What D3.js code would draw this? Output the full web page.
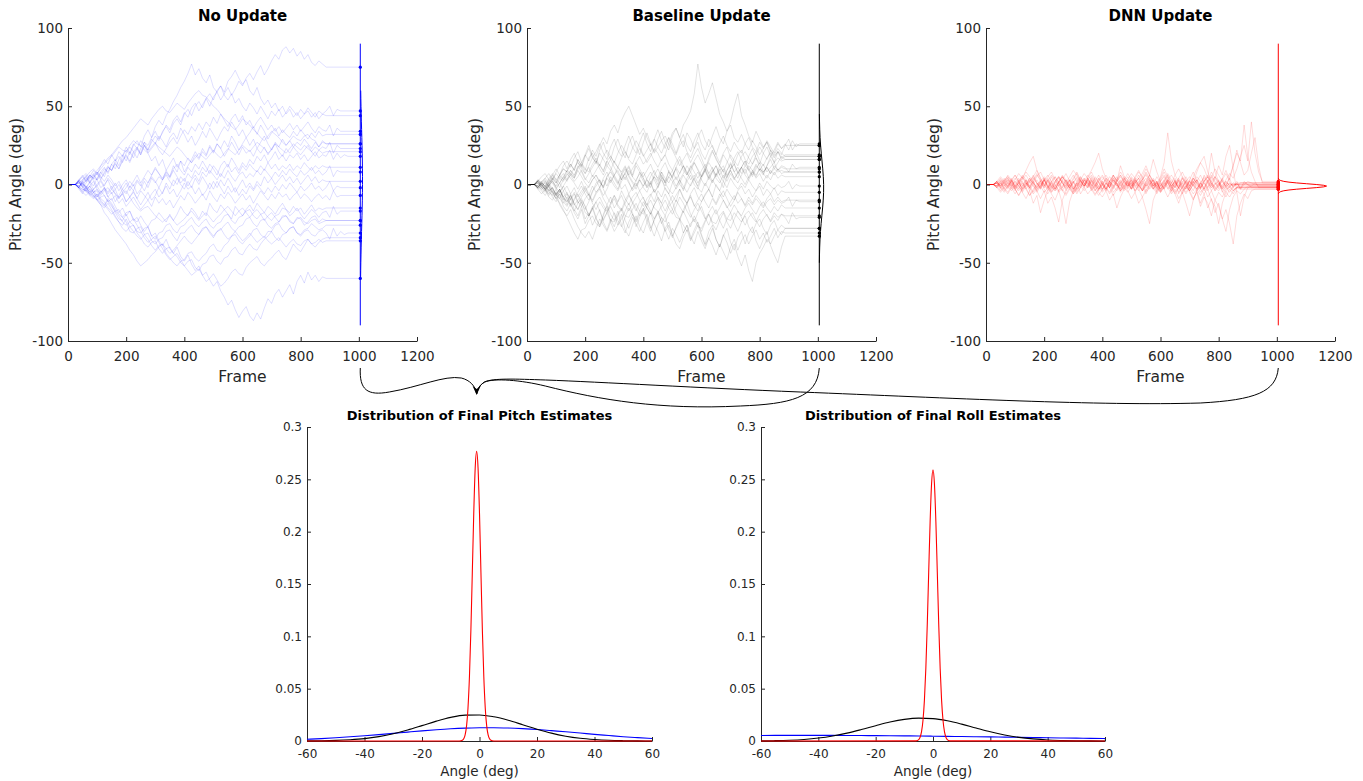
<!DOCTYPE html>
<html><head><meta charset="utf-8">
<script src="https://cdn.jsdelivr.net/npm/d3@7"></script>
<style>body{margin:0;background:#fff;} text{font-family:"DejaVu Sans",sans-serif;}</style>
</head><body><svg id="c" width="1363" height="781"></svg>
<script>
// ---------------- DATA ----------------
const frameTicks = [0, 200, 400, 600, 800, 1000, 1200];
const pitchTicks = [-100, -50, 0, 50, 100];
const angleTicks = [-60, -40, -20, 0, 20, 40, 60];
const densityTicks = [0, 0.05, 0.1, 0.15, 0.2, 0.25, 0.3];
const NO_UPDATE_STEP = 12.5;  // frames between stored samples
const BASELINE_STEP = 12.5;
const DNN_STEP = 12.5;
const END_FRAME = 1005;       // frame where final estimates are collected
const SIDE_SCALE = 600;       // frames per unit density for side distributions

const noUpdateTraces = [
 [0,0,0,-2,3,6,2,-1,4,8,5,11, 9,14,10,16,19,15,21,24,20,27,25,30, 34,29,33,38,35,41,44,40,46,43,49,52, 47,51,55,50,56,59,54,58,62,57,61,66, 63,68,71,67,72,76,70,74,79,83,80,86, 88,84,87,82,85,80,83,78,76,79,77,75],
 [0,0,0,2,-2,1,4,7,3,6,10,8, 13,16,12,18,22,19,25,28,24,31,35,30, 37,41,38,44,48,53,57,62,66,71,77,70, 74,68,65,70,62,59,63,57,54,58,52,55, 50,47,52,49,45,50,46,42,47,44,48,43, 46,50,47,44,48,45,49,46,43,47,45,47,50,44,48,47],
 [0,0,0,3,1,-2,2,5,8,4,7,11, 9,13,10,15,18,14,20,23,19,25,22,27, 31,28,34,37,33,39,42,38,45,48,44,50, 53,49,55,58,54,60,63,59,66,69,73,68, 64,67,60,57,62,55,51,54,49,52,47,50, 45,48,43,46,42,45,47,43,46,42,45,44],
 [0,0,0,-2,1,-3,-1,-5,-8,-4,-7,-11, -9,-14,-18,-15,-20,-17,-23,-21,-26,-30,-27,-33, -31,-36,-39,-35,-41,-44,-40,-46,-49,-45,-51,-55, -52,-58,-56,-61,-65,-62,-68,-72,-77,-74,-80,-85, -81,-78,-84,-87,-82,-86,-79,-73,-76,-70,-67,-72, -68,-64,-70,-62,-58,-63,-56,-61,-58,-62,-59,-60],
 [0,0,0,3,6,2,5,9,6,12,16,13, 19,15,21,18,24,20,26,23,28,25,21,24, 27,22,19,23,27,30,26,31,35,32,37,34, 39,35,40,37,43,39,45,41,37,42,45,40, 44,38,41,36,40,43,39,35,38,34,37,33, 36,39,35,38,34,37,40,36,33,37,35,34,38,31,36,34],
 [0,0,0,-2,2,5,1,4,7,3,8,12, 9,15,18,14,20,24,21,17,23,27,22,29, 26,31,28,24,30,33,29,36,32,27,31,25, 29,34,30,36,32,28,33,37,34,40,36,31, 35,30,33,37,32,38,34,29,33,36,31,35, 32,30,34,31,35,32,29,33,30,34,31,32],
 [0,0,0,2,-1,-4,-1,2,-3,-6,-2,-8, -5,-11,-7,-3,-6,-1,-4,2,-1,4,1,6, 10,7,3,9,5,12,8,15,12,17,14,19, 16,21,18,24,20,26,23,28,24,31,27,22, 26,30,25,29,23,27,31,26,22,27,24,29, 25,28,24,27,25,29,26,23,27,24,28,26],
 [0,0,0,-2,1,4,1,6,3,8,11,7, 13,10,16,19,15,21,17,23,19,25,20,15, 18,12,16,9,13,17,11,15,8,12,16,21, 17,23,19,25,21,26,23,18,22,27,23,19, 24,20,22,18,23,20,24,19,23,26,21,18, 23,20,24,21,19,22,25,21,18,22,20,21],
 [0,0,0,2,5,2,6,3,-1,2,-2,-5, -1,-6,-9,-5,-11,-8,-4,-9,-13,-9,-5,-10, -7,-2,-6,1,-3,3,0,5,2,7,4,9, 6,11,8,13,10,6,12,15,11,17,13,9, 14,11,16,13,18,15,19,14,17,21,16,19, 15,19,17,20,16,19,15,18,21,17,19,18,22,16,20,17,19,18],
 [0,0,0,-2,-4,-1,-5,-3,-8,-5,-2,-6, -3,1,-4,0,3,-2,2,6,1,5,9,6, 11,7,4,8,5,10,13,9,6,11,8,13, 10,15,11,7,12,9,5,10,13,8,11,7, 12,9,13,10,8,12,9,14,10,13,9,12, 10,13,9,12,10,14,11,9,12,10,12,11],
 [0,0,0,1,-1,3,6,4,8,5,2,6, 3,-1,2,-3,1,-4,0,-6,-3,2,-2,4, 1,5,3,7,4,9,5,1,4,-1,3,6, 2,8,5,9,6,3,7,4,9,5,2,6, 8,4,7,5,9,6,10,7,4,8,5,9, 6,10,7,5,9,6,8,11,7,9,6,8,12,5,9,8],
 [0,0,0,-1,2,-2,1,-3,0,3,-1,4, 1,-3,0,-5,-2,2,-1,3,0,-4,1,5, 2,-2,3,6,2,-1,4,0,-3,2,-2,4, 0,5,1,-3,2,-2,3,-1,4,0,-5,-1, 3,-2,1,-3,2,-1,5,1,4,0,3,6, 2,5,1,4,0,3,6,2,5,1,3,2],
 [0,0,0,1,-1,-4,-1,-5,-3,-7,-4,-2, -6,-3,-9,-6,-11,-8,-5,-9,-4,-7,-10,-6, -3,-8,-5,-1,-6,-3,-8,-4,1,-3,-1,-6, -2,-7,-4,1,-3,2,-2,-6,-1,-5,-2,-7, -3,-6,-1,-4,0,-3,-6,-2,-5,-1,-4,0, -3,1,-2,-5,-1,-4,-2,1,-3,-1,-4,-2,2,-4,-1,-2],
 [0,0,0,-2,-5,-2,-6,-3,-1,-5,-3,-8, -10,-7,-12,-9,-14,-11,-8,-12,-16,-13,-10,-14, -8,-12,-9,-13,-10,-15,-11,-7,-10,-5,-8,-12, -9,-6,-10,-4,-8,-11,-6,-9,-5,-8,-12,-9, -6,-10,-7,-12,-8,-4,-7,-10,-6,-9,-5,-8, -6,-10,-7,-5,-9,-6,-8,-11,-8,-6,-9,-7,-10,-4,-8,-7],
 [0,0,0,-3,-6,-2,-5,-8,-6,-11,-13,-9, -12,-16,-19,-21,-18,-17,-22,-24,-20,-24,-27,-23, -22,-18,-21,-24,-19,-23,-19,-14,-18,-20,-15,-18, -22,-17,-20,-12,-16,-18,-13,-16,-19,-22,-14,-17, -20,-16,-13,-17,-12,-15,-18,-14,-16,-19,-15,-12, -16,-18,-14,-17,-15,-19,-16,-13,-17,-15,-16,-15],
 [0,0,0,2,-2,-5,-3,-7,-9,-12,-14,-10, -13,-18,-22,-23,-19,-24,-26,-30,-31,-28,-27,-33, -35,-31,-30,-26,-25,-29,-31,-27,-26,-23,-21,-25, -27,-24,-22,-26,-28,-25,-24,-20,-19,-23,-25,-21, -20,-17,-16,-20,-22,-19,-18,-21,-23,-20,-19,-15, -16,-20,-18,-15,-19,-22,-19,-16,-18,-21,-18,-17,-21,-14,-19,-17],
 [0,0,0,-2,-5,-7,-4,-7,-10,-13,-15,-12, -16,-20,-24,-26,-22,-27,-30,-33,-35,-32,-31,-36, -38,-35,-34,-30,-29,-33,-36,-31,-31,-28,-26,-30, -32,-28,-27,-31,-34,-30,-29,-26,-24,-28,-30,-27, -26,-22,-21,-25,-27,-23,-22,-26,-28,-25,-24,-20, -20,-24,-25,-21,-22,-26,-24,-21,-20,-24,-22,-23],
 [0,0,0,3,0,-2,-7,-5,-4,-9,-11,-15, -17,-21,-24,-28,-30,-27,-26,-31,-34,-38,-40,-37, -36,-41,-44,-41,-40,-44,-46,-50,-52,-49,-48,-53, -55,-51,-50,-46,-45,-49,-51,-47,-46,-42,-40,-44, -45,-41,-38,-41,-42,-38,-35,-33,-30,-34,-36,-32, -31,-28,-27,-31,-32,-29,-28,-25,-27,-29,-28,-26],
 [0,0,0,-1,-3,-4,-7,-9,-6,-10,-13,-16, -19,-17,-16,-21,-24,-30,-31,-28,-27,-32,-35,-39, -42,-39,-38,-44,-47,-50,-52,-49,-48,-44,-43,-47, -49,-46,-44,-40,-38,-42,-43,-39,-37,-33,-32,-36, -38,-35,-33,-29,-28,-32,-34,-30,-30,-26,-25,-29, -31,-28,-27,-31,-33,-30,-29,-32,-33,-30,-29,-31,-35,-28,-33,-30,-32,-31],
 [0,0,0,2,0,-1,-3,-5,-10,-8,-7,-11, -14,-17,-20,-24,-26,-24,-22,-26,-30,-34,-37,-35, -33,-37,-41,-45,-48,-46,-44,-48,-52,-55,-58,-56, -54,-58,-62,-60,-57,-61,-65,-63,-60,-56,-54,-57, -58,-53,-50,-48,-46,-50,-52,-49,-47,-44,-42,-46, -48,-43,-38,-41,-43,-39,-35,-38,-40,-37,-35,-34],
 [0,0,0,-2,-3,-4,-6,-8,-10,-13,-18,-21, -25,-29,-32,-35,-38,-42,-45,-49,-52,-50,-48,-45, -43,-40,-38,-41,-44,-42,-39,-36,-33,-36,-38,-35, -32,-29,-27,-30,-33,-30,-28,-32,-35,-33,-30,-33, -36,-34,-31,-34,-37,-35,-33,-36,-38,-36,-34,-37, -40,-37,-35,-38,-39,-36,-35,-38,-37,-35,-37,-36],
 [0,0,0,1,3,5,8,10,7,10,13,16, 18,21,24,22,21,25,28,26,25,22,20,23, 26,24,22,20,18,21,24,22,19,16,14,17, 20,18,16,19,22,19,17,20,23,21,19,22, 25,23,21,24,27,25,23,20,22,26,24,22, 20,23,26,24,22,25,23,21,24,22,24,23,27,20,25,23],
 [0,0,0,3,5,7,4,6,9,12,14,17, 19,22,25,28,30,33,36,39,42,40,38,42, 45,48,50,47,46,49,52,50,48,52,55,58, 60,57,56,53,50,48,45,42,40,37,35,38, 42,40,38,35,33,30,28,31,34,32,30,27, 25,28,31,29,28,31,32,29,28,24,27,26],
 [0,0,0,-1,1,2,6,4,3,-2,0,3, -3,-6,-8,-6,-4,-8,-12,-15,-17,-15,-14,-17, -20,-22,-24,-22,-20,-23,-26,-24,-22,-19,-17,-20, -23,-20,-18,-21,-24,-21,-19,-16,-14,-17,-20,-17, -15,-18,-21,-18,-16,-19,-23,-20,-18,-21,-24,-21, -20,-23,-25,-22,-21,-24,-25,-23,-22,-25,-24,-23]
];

const baselineTraces = [
 [0,0,0,2,-1,-3,1,4,1,6,10,8, 6,11,14,10,7,12,17,14,20,16,12,9, 15,11,8,12,6,10,14,18,13,16,20,15, 11,16,19,13,9,14,18,12,7,11,15,19, 14,9,17,22,16,12,19,15,10,17,21,16, 12,18,23,17,13,20,24,18,22,27,23,26,22,28,24,26],
 [0,0,0,-2,1,-3,-1,3,-2,-5,-1,3, 6,2,5,9,4,1,6,3,-2,4,8,2, 6,11,7,3,9,5,12,8,4,-2,2,-5, -1,4,-3,-6,1,5,0,-3,4,8,3,-1, 6,10,5,1,7,3,-2,5,9,4,1,6, 10,4,8,13,9,6,12,18,14,21,19,25],
 [0,0,0,3,1,-1,2,6,3,1,5,9, 7,4,10,13,9,17,20,15,12,18,22,18, 14,20,25,21,17,23,28,24,19,14,18,23, 20,15,19,26,22,17,12,16,20,14,19,23, 17,11,15,21,17,12,8,14,19,15,12,18, 21,17,13,19,24,20,16,22,18,21,17,19],
 [0,0,0,-1,2,4,1,3,7,4,2,6, 9,6,11,14,10,8,13,17,12,9,15,18, 14,11,17,21,16,13,19,23,18,22,26,20, 24,28,31,26,33,36,30,38,42,47,58,77, 62,52,58,65,55,45,40,34,38,30,27,32, 26,22,28,24,19,23,27,21,17,21,16,18],
 [0,0,0,2,-1,-3,1,5,2,-2,3,7, 4,1,-3,2,-4,-1,3,6,2,-2,5,8, 4,0,6,10,5,1,-3,3,-1,4,8,3, -2,5,1,9,4,-1,3,-4,2,6,0,-3, 4,9,3,8,12,6,2,9,14,8,4,11, 15,9,13,17,11,7,12,16,10,14,18,16],
 [0,0,0,-3,-1,1,-4,-2,-6,-3,-8,-5, -10,-6,-12,-8,-4,-7,-1,-5,-2,3,-1,5, 1,-3,4,7,2,-4,-1,3,-2,-5,1,5, 0,8,4,1,6,10,3,7,12,8,14,10, 5,9,14,10,6,12,8,4,10,13,7,11, 15,10,6,12,9,13,8,11,14,9,12,11,8,13,10,11],
 [0,0,0,1,-2,2,-1,4,1,6,3,9, 13,9,16,12,7,11,5,9,13,8,15,11, 6,9,3,7,11,5,2,8,4,-1,5,9, 3,8,1,5,9,3,7,12,6,10,14,9, 5,11,7,2,6,10,4,9,13,8,11,7, 12,9,5,10,14,8,11,7,12,9,11,10],
 [0,0,0,-2,1,3,-1,2,-2,1,5,2, 7,4,9,5,1,-2,3,6,1,-1,5,9, 5,1,7,11,6,2,-1,4,8,3,0,6, 10,5,2,8,4,11,7,12,8,3,6,1, 5,9,4,8,12,6,10,5,9,4,7,11, 6,3,8,5,10,7,4,9,6,10,7,8],
 [0,0,0,2,0,-2,3,1,-3,1,-4,-1, -6,-2,-8,-4,-1,-6,-10,-5,-2,-7,-3,3, -1,-4,2,5,1,-3,3,7,2,-2,1,-5, -2,3,-1,5,2,-3,1,6,2,-1,4,8, 3,-1,5,9,4,1,6,2,7,3,8,4, 0,5,9,4,7,2,6,3,8,4,6,5],
 [0,0,0,-1,2,-2,1,-3,-6,-3,-10,-6, -13,-9,-5,-1,-6,-10,-4,-1,3,-2,4,1, 6,2,-3,0,-6,-2,1,-4,-1,3,-2,5, 2,6,1,-3,-6,-2,3,-1,-5,0,4,-2, -5,1,-3,3,-1,-4,2,-2,4,0,-3,1, -2,3,-1,-4,1,-3,2,-1,-3,0,-2,-1,2,-3,0,-1],
 [0,0,0,2,0,-3,-6,-2,-7,-9,-4,-10, -13,-17,-12,-9,-14,-20,-16,-11,-8,-13,-17,-12, -7,-11,-4,-9,-13,-8,-5,-10,-14,-9,-6,-11, -4,-8,-2,-6,-11,-7,-3,-9,-12,-6,-2,-8, -11,-6,-3,-8,0,-4,-8,-3,-7,-10,-4,-1, -6,-3,-8,-4,-1,-7,-3,-6,-2,-7,-4,-5],
 [0,0,0,-3,-6,-3,-8,-10,-5,-13,-17,-20, -16,-22,-27,-31,-34,-30,-35,-28,-22,-26,-30,-24, -18,-23,-27,-21,-15,-19,-23,-17,-11,-15,-19,-13, -8,-12,-17,-12,-7,-11,-3,-8,-12,-7,-14,-10, -6,-11,-15,-9,-13,-8,-4,-9,-14,-10,-5,-9, -13,-8,-12,-7,-10,-14,-9,-6,-11,-8,-11,-10],
 [0,0,0,1,-2,-4,-1,-5,-7,-3,-8,-11, -7,-13,-10,-6,-2,-7,-11,-6,-3,-9,-13,-8, -15,-11,-7,-13,-17,-12,-8,-4,-9,-13,-7,-3, -8,-12,-6,-11,-16,-10,-14,-18,-12,-8,-13,-17, -11,-7,-3,-8,-12,-6,-10,-15,-11,-7,-12,-9, -14,-10,-13,-9,-12,-15,-11,-9,-13,-10,-12,-11,-8,-14,-10,-11],
 [0,0,0,-2,1,-1,-4,-2,-7,-5,-1,-6, -9,-5,-11,-14,-9,-6,-12,-16,-11,-15,-18,-13, -9,-14,-17,-12,-7,-11,-15,-20,-16,-12,-17,-22, -18,-14,-10,-15,-19,-14,-8,-12,-17,-21,-16,-12, -17,-22,-18,-14,-19,-15,-10,-14,-18,-13,-17,-20, -15,-12,-16,-19,-14,-11,-15,-18,-14,-17,-13,-15],
 [0,0,0,3,0,-3,-7,-4,-9,-12,-16,-21, -26,-31,-35,-29,-28,-23,-20,-25,-27,-22,-18,-23, -24,-19,-15,-20,-21,-16,-12,-17,-19,-14,-10,-15, -17,-21,-24,-19,-16,-21,-22,-26,-30,-25,-22,-27, -28,-23,-19,-24,-25,-20,-17,-22,-23,-18,-21,-24, -19,-17,-21,-24,-19,-16,-20,-23,-18,-21,-19,-20],
 [0,0,0,-1,-3,-5,-1,-6,-9,-4,-8,-13, -7,-12,-16,-10,-14,-20,-15,-11,-17,-23,-18,-14, -19,-26,-22,-17,-12,-18,-24,-19,-15,-21,-28,-23, -18,-24,-30,-26,-33,-28,-23,-17,-22,-27,-20,-25, -30,-24,-19,-25,-29,-23,-18,-24,-28,-22,-17,-21, -26,-21,-18,-23,-27,-22,-19,-24,-20,-23,-19,-21,-25,-18,-22,-21],
 [0,0,0,2,-1,-3,0,-4,-7,-3,-9,-11, -6,-13,-16,-11,-18,-20,-15,-22,-26,-20,-14,-24, -30,-26,-19,-29,-33,-26,-20,-27,-31,-24,-18,-25, -30,-36,-28,-24,-32,-38,-41,-34,-29,-36,-31,-26, -33,-39,-34,-28,-35,-40,-32,-37,-44,-38,-46,-52, -45,-55,-62,-50,-44,-40,-35,-38,-33,-29,-32,-28],
 [0,0,0,-2,0,2,-2,-5,-9,-6,-11,-14, -9,-16,-20,-14,-22,-18,-26,-21,-16,-24,-29,-22, -27,-20,-16,-23,-28,-21,-25,-30,-24,-19,-27,-33, -26,-21,-29,-35,-28,-32,-37,-31,-26,-33,-38,-30, -36,-41,-34,-39,-45,-38,-43,-48,-40,-35,-42,-36, -32,-38,-33,-29,-35,-31,-37,-33,-28,-34,-30,-31],
 [0,0,0,-2,-4,-7,-3,-8,-11,-6,-14,-17, -12,-18,-22,-16,-25,-20,-14,-21,-27,-19,-13,-19, -23,-17,-26,-31,-24,-19,-27,-21,-16,-24,-30,-22, -17,-25,-20,-29,-34,-27,-22,-31,-26,-35,-29,-24, -32,-38,-30,-26,-35,-40,-33,-28,-37,-42,-34,-30, -38,-31,-27,-36,-41,-35,-30,-39,-45,-50,-40,-33],
 [0,0,0,2,5,7,3,6,10,6,12,15, 11,17,21,14,19,25,18,13,22,27,20,16, 24,29,22,17,26,31,24,19,27,33,26,21, 29,34,27,22,31,36,30,24,33,29,23,30, 35,28,24,31,37,30,26,34,40,50,58,44, 38,31,27,34,29,24,27,22,19,23,20,18],
 [0,0,0,-2,1,4,7,3,8,12,15,10, 16,20,14,11,18,23,17,21,26,20,16,24, 29,22,18,25,31,24,20,27,33,26,21,29, 35,28,23,30,26,20,27,32,25,21,28,33, 26,22,29,24,19,26,31,25,21,27,23,20, 26,30,24,21,27,23,28,24,20,26,23,25,29,22,26,25],
 [0,0,0,1,-2,-4,0,2,-1,4,7,3, 9,5,12,8,3,7,11,15,10,6,12,16, 11,7,3,8,12,6,14,10,5,9,13,7, 4,10,14,8,5,11,16,9,6,12,8,4, 9,13,7,11,5,9,12,6,10,13,8,11, 7,12,9,6,10,8,11,7,10,8,9,8],
 [0,0,0,3,1,-1,4,7,3,6,10,8, 13,9,16,12,19,15,22,18,25,30,26,34, 38,33,41,46,50,44,38,32,36,30,25,29, 24,20,26,30,23,19,25,28,21,17,23,27, 20,16,22,25,19,14,20,24,17,13,19,22, 16,13,18,21,15,12,17,20,14,17,15,16],
 [0,0,0,-1,-3,-1,-5,-7,-3,-9,-12,-8, -14,-10,-6,-12,-16,-11,-5,1,3,-3,-8,-12, -7,-13,-16,-10,-6,-12,-17,-11,-8,-15,-19,-13, -9,-16,-20,-14,-11,-18,-22,-16,-12,-19,-24,-18, -14,-21,-26,-20,-16,-23,-28,-22,-18,-25,-30,-24, -20,-27,-31,-25,-22,-28,-32,-26,-23,-29,-26,-28]
];

const dnnTraces = [
 [0,0,0,-1,2,-3,1,4,-2,3,-5,-1,2,6,1,-3,4,-2,5,0,-4,3,7,2,-3,1,-6,-2,3,-1,5,2,-4,1,-2,6,3,-1,4,-3,2,-5,0,3,8,4,-1,2,-4,1,5,-2,3,-6,-1,2,-3,4,1,-2,6,2,-4,0,3,-5,-1,4,-2,1,-3,2,0,-1,1,-1],
 [0,0,0,2,-1,3,5,2,-2,1,4,8,5,2,-3,-1,3,6,2,-2,-5,-2,1,5,9,6,2,-1,3,-2,-6,-3,0,4,2,-1,-4,1,5,3,7,4,-1,-3,2,6,1,-2,-5,-1,3,1,6,10,5,1,-2,2,-3,-7,-2,2,5,1,-1,3,7,2,-2,1,-3,0,2,1,0],
 [0,0,0,1,-2,2,6,3,-1,-4,-1,3,1,5,9,4,0,-3,2,5,1,-4,-7,-3,1,4,0,-2,3,6,2,-1,-5,-2,2,5,3,8,4,0,-3,1,4,7,12,6,2,-1,5,14,33,15,6,2,-2,3,-1,4,1,-3,2,5,0,-4,-1,2,-2,1,-1,0,-1],
 [0,0,0,-2,1,-3,-6,-2,2,-1,-5,-9,-4,-12,-7,-18,-10,-4,1,-3,2,5,1,-3,-6,-2,3,0,4,-1,-4,2,5,1,-2,3,-1,-5,-2,2,-3,1,4,-2,-6,-1,3,-4,0,-3,-8,-3,1,-2,4,0,-5,-10,-4,-12,-6,-15,-9,-18,-12,-22,-16,-25,-38,-20,-12,-6,-9,-4,-3],
 [0,0,0,1,-3,0,3,-1,-4,2,5,1,-2,3,7,2,-1,4,0,-3,1,5,2,-2,-5,-1,3,-1,4,8,3,-2,1,-3,2,6,1,-4,-1,3,0,5,9,4,-1,2,-3,1,-5,-1,3,6,2,-2,4,0,-4,1,5,2,-3,1,6,2,-2,4,9,3,12,20,15,38,18,8,2,-2],
 [0,0,0,-1,3,1,-2,2,6,2,-3,-1,4,0,-5,-1,3,-2,-6,-10,-4,-12,-25,-11,-4,1,-2,3,-1,5,1,-3,2,-4,0,4,1,-2,3,7,3,-1,2,-4,-1,3,0,5,1,-3,2,-5,-1,4,0,-3,3,8,2,-2,1,-4,0,5,2,-2,3,7,4,10,18,25,15,40,20,8,2],
 [0,0,0,2,-1,-4,-1,3,0,-3,2,-2,-7,-3,1,-2,4,0,-4,1,5,2,-1,3,-2,-6,-2,2,6,3,-1,4,0,-3,1,-5,-2,2,-1,-4,-9,-5,-12,-8,-16,-25,-10,-4,1,-3,2,-2,3,-1,5,1,-4,0,3,-2,2,6,1,-3,0,4,-1,-5,-1,2,-2,1,0,-2],
 [0,0,0,-2,1,4,1,-1,3,7,4,9,14,18,9,4,0,3,-2,2,5,1,-3,0,4,8,3,-1,2,-4,-1,3,6,2,-2,1,5,1,-3,2,-1,4,0,-4,1,6,2,-2,3,8,3,-1,2,-3,1,5,0,-4,2,6,1,-2,4,10,6,2,-1,5,12,22,14,6,9,20,30,12,1],
 [0,0,0,1,-2,-5,-1,2,-3,-7,-2,1,-4,0,3,-1,-5,-2,2,-3,1,5,1,-2,-6,-3,1,4,0,-3,2,6,1,-2,-5,-1,3,0,-4,-1,4,1,-3,-8,-4,0,3,-1,-5,-2,2,-1,-6,-12,-5,-1,-4,-9,-5,-14,-8,-12,-20,-10,-5,-8,-3,-1,-4,-2,-1],
 [0,0,0,2,5,2,-1,3,-2,1,6,3,-1,4,1,-3,2,5,8,3,-1,2,-4,0,3,7,2,-1,5,9,14,20,10,4,-1,3,0,-3,2,5,1,-4,0,3,6,2,-2,1,-3,2,6,1,-2,3,-1,-5,-1,4,0,-3,2,5,1,-4,0,3,-2,1,-1,1],
 [0,0,0,-1,-4,-1,2,-2,-6,-2,1,-3,2,5,1,-2,3,-1,-5,-2,2,6,3,-1,2,-4,0,4,1,-3,-7,-3,0,-4,1,4,0,-3,2,-1,5,2,-2,1,-4,0,3,-2,2,6,1,-3,0,4,8,3,-1,5,10,14,18,8,2,-2,1,-3,0,-2,1,-1,-2],
 [0,0,0,1,3,0,-3,1,4,1,-2,2,-1,-5,-1,3,0,-4,-1,2,5,1,-2,3,-3,0,4,1,-2,2,-4,-1,3,6,2,-2,1,-4,0,3,-1,4,8,5,10,6,16,8,2,-2,1,-4,-1,3,-2,-6,-2,2,-1,-5,-2,-8,-4,-10,-14,-22,-30,-16,-8,-4,-6,-3,-1],
 [0,0,0,-1,2,-1,3,1,-3,0,4,1,-2,2,6,3,-1,2,-3,0,-4,-1,3,-2,1,5,2,-2,-6,-3,-1,-5,-8,-4,-10,-6,-15,-8,-3,1,-2,3,0,-4,1,4,-1,2,-3,1,-2,-6,-3,-9,-5,-12,-20,-10,-4,1,-2,3,-1,4,0,-3,2,-1,1,0,1],
 [0,0,0,2,-1,1,4,0,-3,-1,3,6,2,-1,-4,0,3,-2,1,5,1,-3,-6,-2,2,-1,3,7,4,0,-2,2,-3,1,5,2,-1,3,-2,-5,-1,2,6,2,-1,1,-3,0,4,10,5,1,-2,2,-4,-1,3,0,-3,1,5,2,-2,1,-3,0,2,-1,0],
 [0,0,0,-2,0,3,-1,-4,-1,2,5,2,-2,-6,-3,1,-2,2,6,3,-1,-4,0,3,-1,-5,-2,3,0,4,1,-3,-1,3,-2,-7,-3,1,4,0,-3,2,-1,3,7,3,-1,2,-4,-1,3,0,-5,-2,2,-1,-4,0,3,-3,-6,-2,1,-2,-4,-1,-3,-2,-4,-2],
 [0,0,0,1,4,1,-2,3,6,2,-1,3,-3,1,5,8,3,-1,-5,-1,2,-2,3,0,-4,1,5,1,-2,2,-1,4,0,-3,2,6,2,12,5,1,-2,3,-1,-4,0,3,-2,-6,-1,2,-3,1,4,0,-3,2,5,1,8,14,10,4,20,8,2,-4,-8,-3,-6,-2,1],
 [0,0,0,-2,-5,-2,1,-3,0,4,1,-3,-7,-4,0,2,-2,3,-1,-4,1,5,2,-1,-5,-2,2,-1,4,0,-3,-7,-3,1,-2,3,0,-4,-1,2,-3,1,4,0,-5,-2,1,-3,2,5,1,-2,-6,-2,1,-3,2,-1,-4,-1,3,-3,-10,-14,-25,-12,-5,-8,-4,-2,-3],
 [0,0,0,1,-1,2,5,2,-1,1,-3,0,4,1,-2,2,5,2,-1,-4,-1,3,0,-2,2,-3,-1,3,1,-2,4,1,-3,0,2,-1,3,6,2,-1,1,-4,-1,2,-2,1,4,1,-3,0,3,-1,2,-2,-5,-1,2,0,-3,1,4,1,-2,0,2,-1,1,0],
 [0,0,0,-1,1,-2,-5,-1,2,-1,-4,0,3,1,-2,2,-3,-6,-2,1,4,1,-2,2,6,2,-1,-4,-1,3,0,-3,2,-2,-6,-2,2,5,1,-2,3,-1,-4,1,4,0,-3,2,-1,3,7,3,-1,-5,-2,2,-2,-6,-3,1,-3,2,8,4,12,6,18,25,10,-5,-20,-8,-2,-1],
 [0,0,0,2,-2,1,4,0,-3,-7,-3,1,-2,2,-4,-9,-4,-12,-8,-15,-24,-10,-4,0,-3,2,5,1,-2,3,-1,-4,0,4,1,-3,2,6,2,-1,3,-2,1,5,1,-3,0,-5,-1,3,-1,-4,2,-2,-6,-2,2,-1,3,0,-4,-1,2,5,1,-2,-5,-1,-3,-2]
];

// fitted distributions of final estimates (density vs angle)
const angleGrid = [-60,-55,-50,-45,-40,-35,-30,-25,-20,-15,-10,-5,0,5,10,15,20,25,30,35,40,45,50,55,60];
const pitchBlue  = [0.0017,0.0023,0.0031,0.0040,0.0050,0.0061,0.0073,0.0085,0.0097,0.0108,0.0117,0.0123,0.0126,0.0127,0.0124,0.0118,0.0110,0.0099,0.0088,0.0076,0.0063,0.0052,0.0041,0.0032,0.0024];
const pitchBlack = [0.0001,0.00024,0.00056,0.0012,0.0023,0.0042,0.0069,0.0105,0.0147,0.0190,0.0226,0.0247,0.0249,0.0231,0.0198,0.0156,0.0113,0.0075,0.0046,0.0026,0.0014,0.00065,0.0003,0.00012,0.00004];
const pitchRedX  = [-60,-7,-6.5,-6,-5.5,-5,-4.5,-4,-3.5,-3,-2.5,-2,-1.5,-1,-0.5,0,0.5,1,1.5,2,2.5,3,3.5,4,4.5,5,60];
const pitchRed   = [0,0.00005,0.0002,0.00067,0.0021,0.0058,0.0144,0.0316,0.0613,0.1055,0.1609,0.2175,0.2606,0.2768,0.2606,0.2175,0.1609,0.1055,0.0613,0.0316,0.0144,0.0058,0.0021,0.00067,0.0002,0.00005,0];
const rollBlue   = [0.0053,0.0054,0.0054,0.0054,0.0054,0.0054,0.0053,0.0052,0.0051,0.0050,0.0049,0.0048,0.0046,0.0044,0.0043,0.0041,0.0039,0.0037,0.0035,0.0033,0.0031,0.0029,0.0027,0.0025,0.0023];
const rollBlack  = [0.00015,0.00035,0.00076,0.0015,0.0028,0.0048,0.0075,0.0109,0.0146,0.0181,0.0207,0.0219,0.0214,0.0193,0.0161,0.0124,0.0088,0.0058,0.0035,0.0020,0.0010,0.0005,0.0002,0.00009,0.00003];
const rollRedX   = [-60,-6,-5.5,-5,-4.5,-4,-3.5,-3,-2.5,-2,-1.5,-1,-0.5,0,0.5,1,1.5,2,2.5,3,3.5,4,4.5,5,5.5,6,60];
const rollRed    = [0,0.00013,0.00044,0.00133,0.00362,0.00888,0.0196,0.0388,0.0693,0.1114,0.1612,0.2098,0.2457,0.259,0.2457,0.2098,0.1612,0.1114,0.0693,0.0388,0.0196,0.00888,0.00362,0.00133,0.00044,0.00013,0];

// ---------------- DRAW ----------------
const svg = d3.select('#c');
svg.append('rect').attr('width',1363).attr('height',781).attr('fill','#fff');
const AX = '#262626';
const fmt = d => String(d);

function styleAxis(g, fs){
  g.select('.domain').attr('stroke', AX).attr('stroke-width', 1);
  g.selectAll('.tick line').attr('stroke', AX).attr('stroke-width', 1);
  g.selectAll('.tick text').attr('fill', AX).attr('font-size', fs).attr('font-family','DejaVu Sans');
}

const topPanels = [
  {title:'No Update', left:68, traces:noUpdateTraces, step:NO_UPDATE_STEP, color:'#0000ff', alpha:0.13, distX:angleGrid, dist:pitchBlue},
  {title:'Baseline Update', left:527, traces:baselineTraces, step:BASELINE_STEP, color:'#000000', alpha:0.11, distX:angleGrid, dist:pitchBlack},
  {title:'DNN Update', left:986, traces:dnnTraces, step:DNN_STEP, color:'#ff0000', alpha:0.14, distX:pitchRedX, dist:pitchRed}
];
const TW = 349, TTOP = 28, TBOT = 341;

topPanels.forEach(p => {
  const x = d3.scaleLinear().domain([0,1200]).range([p.left, p.left+TW]);
  const y = d3.scaleLinear().domain([-100,100]).range([TBOT, TTOP]);
  p.x = x;
  const g = svg.append('g');
  const line = d3.line().x((d,i) => x(i*p.step)).y(d => y(d));
  g.append('g').selectAll('path').data(p.traces).join('path')
    .attr('d', line).attr('fill','none').attr('stroke', p.color)
    .attr('stroke-opacity', p.alpha).attr('stroke-width', 1);
  g.append('g').selectAll('line').data(p.traces).join('line')
    .attr('x1', d => x((d.length-1)*p.step)).attr('x2', x(END_FRAME))
    .attr('y1', d => y(d[d.length-1])).attr('y2', d => y(d[d.length-1]))
    .attr('stroke', p.color).attr('stroke-opacity', p.alpha).attr('stroke-width', 1);
  g.append('line').attr('x1', x(END_FRAME)).attr('x2', x(END_FRAME))
    .attr('y1', y(-90)).attr('y2', y(90)).attr('stroke', p.color).attr('stroke-width', 1);
  const side = d3.line().x(d => x(END_FRAME + SIDE_SCALE*d[1])).y(d => y(d[0]));
  const sidePts = p.distX.map((a,i) => [a, p.dist[i]]).filter(d => d[1] > 0.0003);
  g.append('path').attr('d', side(sidePts))
    .attr('fill','none').attr('stroke', p.color).attr('stroke-width', 1);
  g.append('g').selectAll('circle').data(p.traces).join('circle')
    .attr('cx', x(END_FRAME)).attr('cy', d => y(d[d.length-1])).attr('r', 1.6)
    .attr('fill', p.color);

  const xa = svg.append('g').attr('transform', `translate(0,${TBOT})`)
    .call(d3.axisBottom(x).tickValues(frameTicks).tickSizeInner(-4).tickSizeOuter(0).tickPadding(10).tickFormat(fmt));
  styleAxis(xa, '13.5px');
  const ya = svg.append('g').attr('transform', `translate(${p.left},0)`)
    .call(d3.axisLeft(y).tickValues(pitchTicks).tickSizeInner(-4).tickSizeOuter(0).tickPadding(5).tickFormat(fmt));
  styleAxis(ya, '13.5px');

  svg.append('text').attr('x', p.left+TW/2).attr('y', 21).attr('text-anchor','middle')
    .attr('font-weight','bold').attr('font-size','15px').attr('fill','#000').text(p.title);
  svg.append('text').attr('x', p.left+TW/2).attr('y', 382).attr('text-anchor','middle')
    .attr('font-size','15.5px').attr('fill', AX).text('Frame');
  svg.append('text').attr('transform', `translate(${p.left-52},${(TTOP+TBOT)/2}) rotate(-90)`)
    .attr('text-anchor','middle').attr('dy','0.35em')
    .attr('font-size','15.5px').attr('fill', AX).text('Pitch Angle (deg)');
});

const botPanels = [
  {title:'Distribution of Final Pitch Estimates', left:307, right:652, blue:pitchBlue, black:pitchBlack, redX:pitchRedX, red:pitchRed},
  {title:'Distribution of Final Roll Estimates', left:761, right:1105, blue:rollBlue, black:rollBlack, redX:rollRedX, red:rollRed}
];
const BTOP = 427, BBOT = 741;
botPanels.forEach(p => {
  const x = d3.scaleLinear().domain([-60,60]).range([p.left, p.right]);
  const y = d3.scaleLinear().domain([0,0.3]).range([BBOT, BTOP]);
  p.x = x;
  const xa = svg.append('g').attr('transform', `translate(0,${BBOT})`)
    .call(d3.axisBottom(x).tickValues(angleTicks).tickSizeInner(-4).tickSizeOuter(0).tickPadding(8).tickFormat(fmt));
  styleAxis(xa, '12px');
  const ya = svg.append('g').attr('transform', `translate(${p.left},0)`)
    .call(d3.axisLeft(y).tickValues(densityTicks).tickSizeInner(-4).tickSizeOuter(0).tickPadding(5).tickFormat(fmt));
  styleAxis(ya, '12px');
  const ln = d3.line().x(d => x(d[0])).y(d => y(d[1])).curve(d3.curveMonotoneX);
  const series = [
    {xs: angleGrid, ys: p.blue, c: '#0000ff'},
    {xs: angleGrid, ys: p.black, c: '#000000'},
    {xs: p.redX, ys: p.red, c: '#ff0000'}
  ];
  series.forEach(s => {
    svg.append('path').attr('d', ln(s.xs.map((v,i) => [v, s.ys[i]])))
      .attr('fill','none').attr('stroke', s.c).attr('stroke-width', 1.1);
  });
  svg.append('text').attr('x', (p.left+p.right)/2).attr('y', 420).attr('text-anchor','middle')
    .attr('font-weight','bold').attr('font-size','13px').attr('fill','#000').text(p.title);
  svg.append('text').attr('x', (p.left+p.right)/2).attr('y', 776).attr('text-anchor','middle')
    .attr('font-size','13.5px').attr('fill', AX).text('Angle (deg)');
});

// ---------------- ARROWS (annotation) ----------------
const tx = botPanels[0].x(-1), ty = 395;
const s1 = topPanels[0].x(END_FRAME), s2 = topPanels[1].x(END_FRAME), s3 = topPanels[2].x(END_FRAME);
const sy = 368;
const arrowPaths = [
  `M${s1},${sy} C${s1-1},390 ${s1+7},396 ${s1+29},392 C${s1+59},387 ${s1+84},375 ${s1+101},378 C${tx-7},380 ${tx-1},386 ${tx},${ty-1}`,
  `M${s2},${sy} C${s2-2},398 ${s2-29},404 ${s2-79},406 C${s2-159},410 ${s2-219},400 ${s2-274},386 C${tx+44},380 ${tx+18},378 ${tx+8},382 C${tx+3},385 ${tx+1},389 ${tx},${ty-1}`,
  `M${s3},${sy} C${s3-2},392 ${s3-23},400 ${s3-78},403 C${s3-178},406 ${s3-328},398 ${s3-478},392 C${s3-578},388 ${s3-678},382 ${tx+69},380 C${tx+39},379 ${tx+16},378 ${tx+8},382 C${tx+3},385 ${tx+1},389 ${tx},${ty-1}`
];
arrowPaths.forEach(d => svg.append('path').attr('d', d).attr('fill','none').attr('stroke','#000').attr('stroke-width',1));
svg.append('path').attr('d', `M${tx},${ty} L${tx-4},${ty-9} L${tx},${ty-6} L${tx+4},${ty-9} Z`).attr('fill','#000');
</script></body></html>
